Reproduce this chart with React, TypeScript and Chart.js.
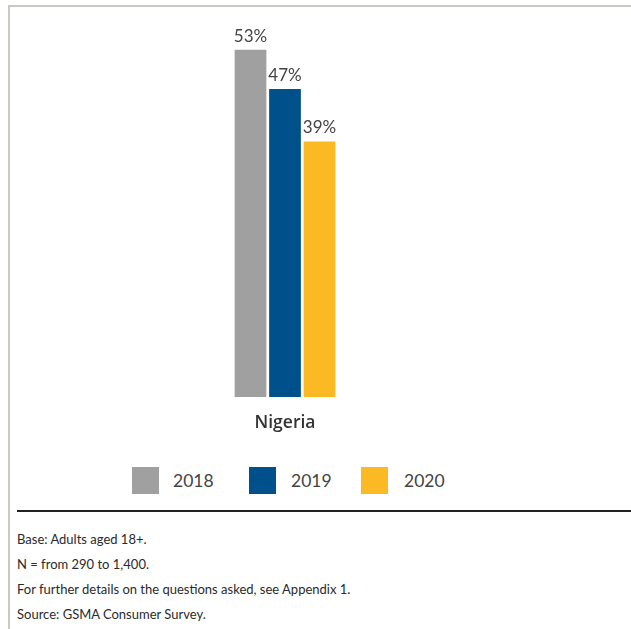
import React, { useEffect, useRef } from "react";
import { Chart, registerables } from "chart.js";

Chart.register(...registerables);

const categories = ["Nigeria"];
const seriesNames = ["2018", "2019", "2020"];
const values2018 = [53];
const values2019 = [47];
const values2020 = [39];
const seriesColors = ["#a0a0a0", "#00508c", "#fbb924"];
const footerLines = [
  "Base: Adults aged 18+.",
  "N = from 290 to 1,400.",
  "For further details on the questions asked, see Appendix 1.",
  "Source: GSMA Consumer Survey.",
];

const LABEL_FONT = "Lato, 'Open Sans', sans-serif";

const valueLabelPlugin = {
  id: "valueLabels",
  afterDatasetsDraw(chart: any) {
    const ctx = chart.ctx;
    ctx.save();
    ctx.font = `17px ${LABEL_FONT}`;
    ctx.fillStyle = "#444444";
    ctx.textAlign = "center";
    ctx.textBaseline = "alphabetic";
    chart.data.datasets.forEach((ds: any, i: number) => {
      const meta = chart.getDatasetMeta(i);
      meta.data.forEach((bar: any, j: number) => {
        ctx.fillText(`${ds.data[j]}%`, bar.x, bar.y - 8);
      });
    });
    ctx.restore();
  },
};

function BarChart() {
  const ref = useRef<HTMLCanvasElement>(null);
  useEffect(() => {
    if (!ref.current) return;
    const chart = new Chart(ref.current, {
      type: "bar",
      data: {
        labels: categories,
        datasets: [
          { label: seriesNames[0], data: values2018, backgroundColor: seriesColors[0] },
          { label: seriesNames[1], data: values2019, backgroundColor: seriesColors[1] },
          { label: seriesNames[2], data: values2020, backgroundColor: seriesColors[2] },
        ],
      },
      options: {
        animation: false,
        responsive: false,
        maintainAspectRatio: false,
        layout: { padding: { left: 20, right: 81, top: 17, bottom: 0 } },
        datasets: {
          bar: { barPercentage: 0.92, categoryPercentage: 103.5 / 530 },
        },
        plugins: { legend: { display: false }, tooltip: { enabled: false } },
        scales: {
          x: {
            grid: { display: false, drawTicks: false },
            border: { display: false },
            ticks: {
              padding: 16,
              color: "#333333",
              font: { family: "'Open Sans', sans-serif", size: 17.5, weight: "600" },
            },
            afterFit: (scale: any) => {
              scale.height = 43;
            },
          },
          y: { display: false, min: 0, max: 58 },
        },
      },
      plugins: [valueLabelPlugin],
    } as any);
    return () => chart.destroy();
  }, []);
  return (
    <canvas
      ref={ref}
      width={631}
      height={440}
      style={{ position: "absolute", left: 0, top: 0, width: 631, height: 440 }}
    />
  );
}

export default function App() {
  const legendBoxX = [132, 249, 361];
  const legendTextX = [173, 291, 404];
  return (
    <div
      style={{
        position: "absolute",
        left: 0,
        top: 0,
        width: 631,
        height: 629,
        background: "#ffffff",
        overflow: "hidden",
      }}
    >
      <div style={{ position: "absolute", left: 8, top: 5, width: 2, height: 624, background: "#c9c9c3" }} />
      <div style={{ position: "absolute", left: 8, top: 5, width: 623, height: 2, background: "#c9c9c3" }} />
      <BarChart />
      {seriesNames.map((name, i) => (
        <React.Fragment key={name}>
          <div
            style={{
              position: "absolute",
              left: legendBoxX[i],
              top: 467,
              width: 27,
              height: 27,
              background: seriesColors[i],
            }}
          />
          <div
            style={{
              position: "absolute",
              left: legendTextX[i],
              top: 470,
              height: 22,
              lineHeight: "22px",
              fontFamily: LABEL_FONT,
              fontSize: 17.5,
              color: "#444444",
            }}
          >
            {name}
          </div>
        </React.Fragment>
      ))}
      <div style={{ position: "absolute", left: 17, top: 510, width: 614, height: 2, background: "#222222" }} />
      {footerLines.map((line, i) => (
        <div
          key={i}
          style={{
            position: "absolute",
            left: 17,
            top: 530 + i * 25,
            height: 18,
            lineHeight: "18px",
            fontFamily: LABEL_FONT,
            fontSize: 13,
            color: "#2a2a2a",
            whiteSpace: "nowrap",
          }}
        >
          {line}
        </div>
      ))}
    </div>
  );
}
